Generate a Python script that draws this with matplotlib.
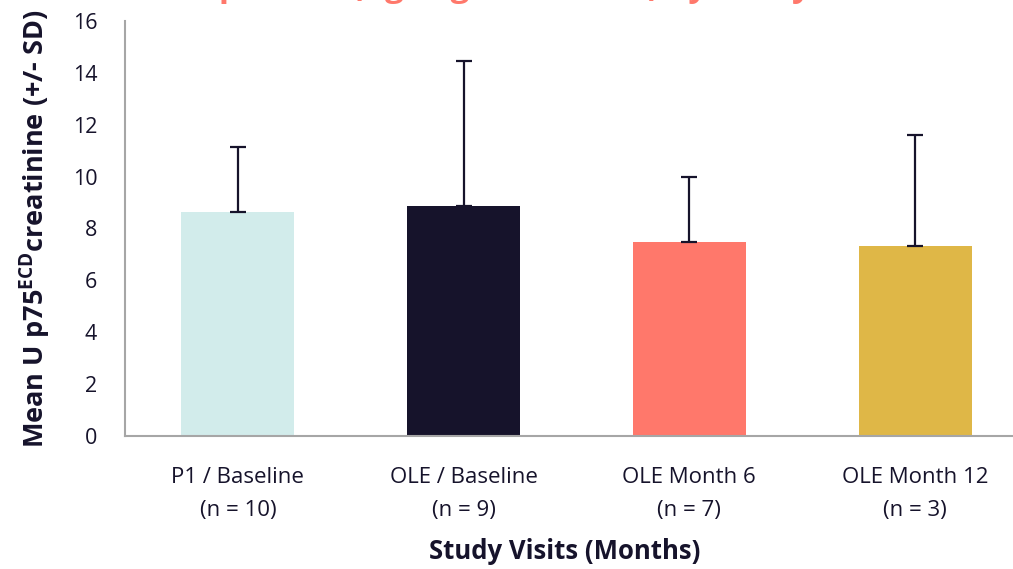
import matplotlib
matplotlib.use("Agg")
import matplotlib.pyplot as plt

categories = ["P1 / Baseline\n(n = 10)", "OLE / Baseline\n(n = 9)",
              "OLE Month 6\n(n = 7)", "OLE Month 12\n(n = 3)"]
means = [8.64, 8.87, 7.48, 7.32]
sds = [2.51, 5.60, 2.52, 4.30]
colors = ["#D2ECEB", "#16132B", "#FF786B", "#DFB747"]
yticks = [0, 2, 4, 6, 8, 10, 12, 14, 16]

plt.rcParams['font.family'] = ['Open Sans', 'DejaVu Sans']
plt.rcParams['mathtext.fontset'] = 'custom'
plt.rcParams['mathtext.bf'] = 'Open Sans:bold'
plt.rcParams['mathtext.rm'] = 'Open Sans'

fig = plt.figure(figsize=(10.13, 5.69), dpi=100)
ax = fig.add_axes([125/1013, 133/569, 903/1013, 415/569])

x = list(range(len(categories)))
ax.bar(x, means, width=0.5, color=colors, zorder=2)
ax.errorbar(x, means, yerr=[[0]*len(sds), sds], fmt='none', ecolor='#16132B',
            elinewidth=1.6, capsize=6, capthick=1.6, zorder=3)

ax.set_xlim(-0.5, 3.5)
ax.set_ylim(0, 16)
ax.set_yticks(yticks)
ax.set_yticklabels([str(t) for t in yticks], fontsize=15.5, color='#16132B')
ax.set_xticks(x)
ax.set_xticklabels(categories, fontsize=16, color='#16132B', linespacing=1.8)
ax.tick_params(axis='y', length=0, pad=20)
ax.tick_params(axis='x', length=0, pad=22)

for s in ['top', 'right']:
    ax.spines[s].set_visible(False)
for s in ['left', 'bottom']:
    ax.spines[s].set_color('#A6A6A6')
    ax.spines[s].set_linewidth(1.5)

ax.set_ylabel(r"Mean U p75$^{\mathbf{ECD}}$creatinine (+/- SD)", fontsize=19.5,
              fontweight='bold', color='#16132B')
ax.yaxis.set_label_coords(-72/903, 0.5)
ax.set_xlabel("Study Visits (Months)", fontsize=18.5, fontweight='bold',
              color='#16132B')
ax.xaxis.set_label_coords((566 - 126) / 903, -(538 - 436) / 415)

fig.text(0.532, 1.007, "U p75ECD (ng/mg creatinine) by Study Visit", ha='center',
         va='baseline', fontsize=24, fontweight='bold', color='#FF786B')

fig.savefig("out.png", dpi=100)
